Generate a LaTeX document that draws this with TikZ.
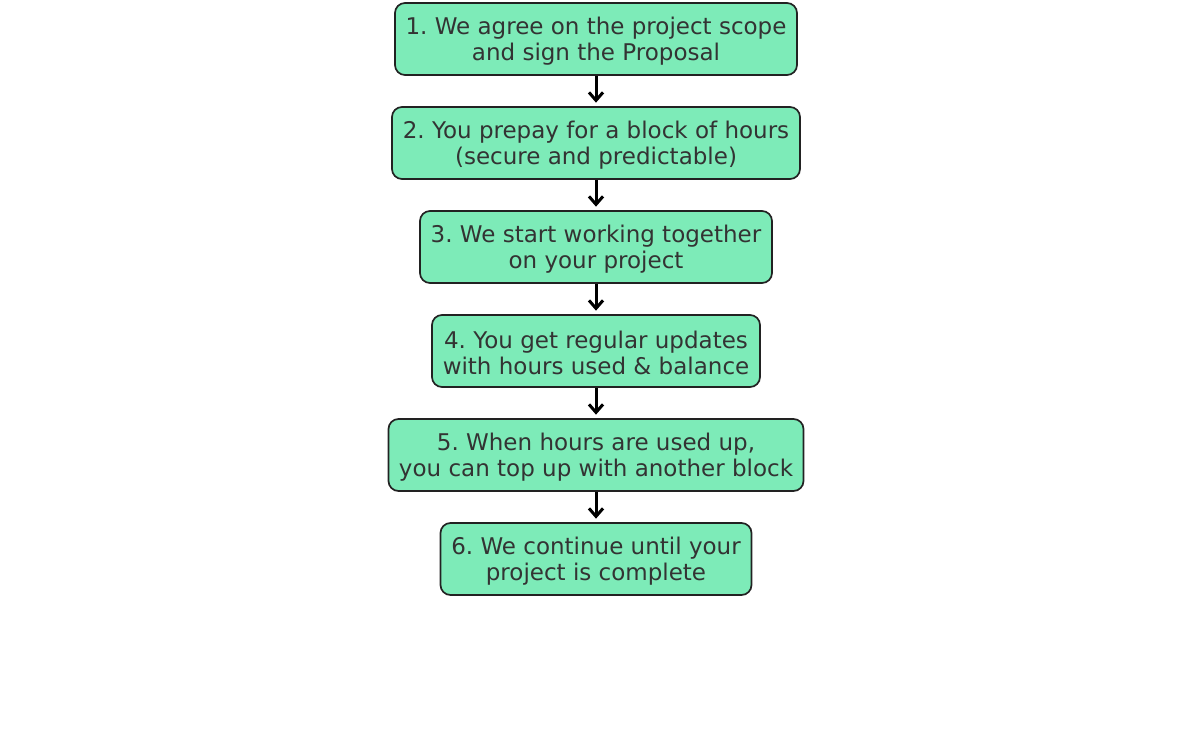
\documentclass[tikz,border=0pt]{standalone}
\usepackage{fontspec}
\setmainfont{DejaVu Sans}
\usetikzlibrary{arrows.meta}
\definecolor{boxfill}{HTML}{7DEBB8}
\definecolor{boxdraw}{HTML}{222222}
\definecolor{txt}{HTML}{333333}
\tikzset{
  stepbox/.style={draw=boxdraw, fill=boxfill, line width=1.7pt, rounded corners=10pt,
    minimum height=72pt, inner sep=0pt},
  steptext/.style={align=center, text=txt, font=\frenchspacing\fontsize{23}{26.4}\selectfont,
    inner sep=0pt, yshift=-2pt},
  flow/.style={line width=3pt, -{Straight Barb[length=8pt,width=14pt,line width=3pt]}, shorten >=3.5pt}
}
\begin{document}
\begin{tikzpicture}[x=1pt,y=-1pt]
\useasboundingbox (0,0) rectangle (1192,747);
\node[stepbox, minimum width=402pt, label={[steptext]center:1. We agree on the project scope\\and sign the Proposal}] (s1) at (596,39) {};
\node[stepbox, minimum width=408pt, label={[steptext]center:2. You prepay for a block of hours\\(secure and predictable)}] (s2) at (596,143) {};
\node[stepbox, minimum width=352pt, label={[steptext]center:3. We start working together\\on your project}] (s3) at (596,247) {};
\node[stepbox, minimum width=328pt, label={[steptext]center:4. You get regular updates\\with hours used \& balance}] (s4) at (596,351) {};
\node[stepbox, minimum width=415pt, label={[steptext]center:5. When hours are used up,\\you can top up with another block}] (s5) at (596,455) {};
\node[stepbox, minimum width=311pt, label={[steptext]center:6. We continue until your\\project is complete}] (s6) at (596,559) {};
\draw[flow] (s1) -- (s2);
\draw[flow] (s2) -- (s3);
\draw[flow] (s3) -- (s4);
\draw[flow] (s4) -- (s5);
\draw[flow] (s5) -- (s6);
\end{tikzpicture}
\end{document}
